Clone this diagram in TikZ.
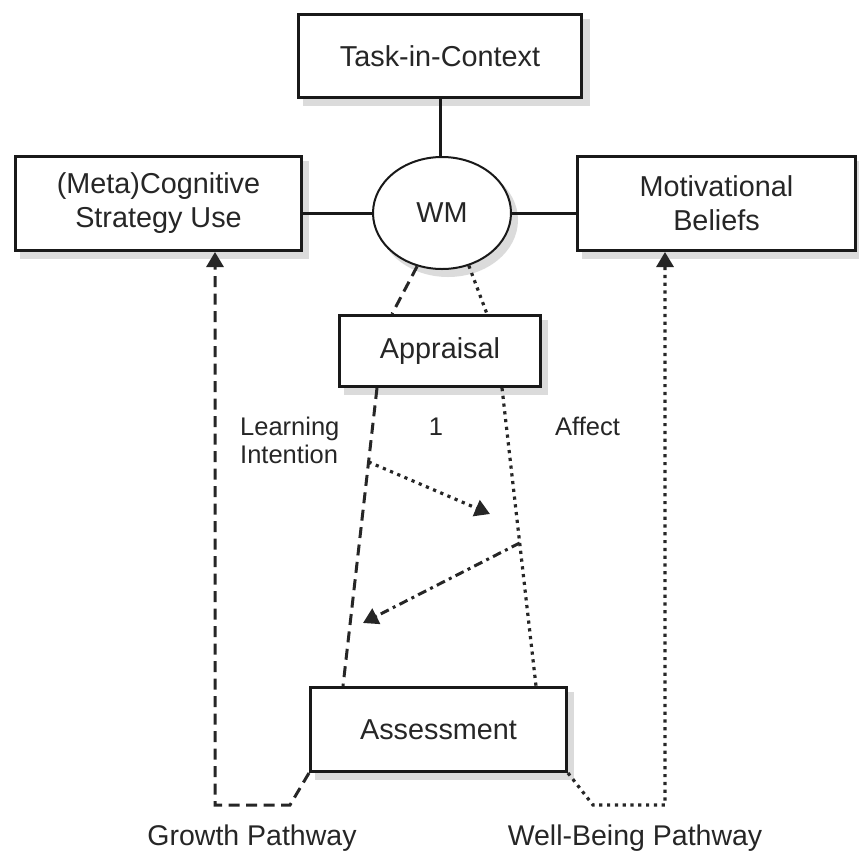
\documentclass[tikz,border=0pt]{standalone}
\usepackage{fontspec}
\setmainfont{Liberation Sans}
\usetikzlibrary{shapes.geometric,arrows.meta,calc}

\begin{document}
\begin{tikzpicture}[
  x=1pt, y=-1pt,
  every node/.style={text=black!85},
  boxtext/.style={font=\fontsize{28.8}{34}\selectfont, align=center},
  labeltext/.style={font=\fontsize{25.5}{28}\selectfont, inner sep=0pt},
  pathtext/.style={font=\fontsize{28.5}{32}\selectfont, inner sep=0pt},
  box/.style={boxtext, draw=black!90, line width=3pt, fill=white,
    rectangle, inner sep=0pt},
  shade/.style={fill=black!14, draw=none},
  link/.style={line width=3pt, draw=black!90},
  growth/.style={line width=3pt, draw=black!85, dash pattern=on 11pt off 6.5pt},
  wellbeing/.style={line width=3.2pt, draw=black!85,
    dash pattern=on 3.2pt off 4.6pt},
  dashdot/.style={line width=3pt, draw=black!85, dash pattern=on 9pt off 4.5pt on 3pt off 4.5pt},
  tip/.style={-{Triangle[length=15pt,width=17pt]}},
]
\useasboundingbox (0,0) rectangle (859,852);

% soft drop shadows behind the boxes and the ellipse
\fill[shade] (303,19) rectangle (590,106);
\fill[shade] (20,161) rectangle (309,259);
\fill[shade] (582,161) rectangle (863,259);
\fill[shade] (448,220) ellipse [x radius=70, y radius=57];
\fill[shade] (344,320) rectangle (548,395);
\fill[shade] (315,692) rectangle (574,780);

% main boxes
\node[box, minimum width=283, minimum height=83] (task) at (440,56) {Task-in-Context};
\node[box, minimum width=286, minimum height=94] (cog) at (158.5,203.5) {(Meta)Cognitive\\Strategy Use};
\node[box, minimum width=278, minimum height=94] (mot) at (716.5,203.5) {Motivational\\Beliefs};
\node[boxtext, draw=black!90, line width=2pt, fill=white, ellipse,
      inner sep=0pt, minimum width=138, minimum height=112] (wm) at (442,213) {WM};
\node[box, minimum width=201, minimum height=71] (app) at (440,351) {Appraisal};
\node[box, minimum width=256, minimum height=84] (ass) at (438.5,729.5) {Assessment};

% solid links around working memory
\draw[link] (task.south) -- (task.south |- wm.north);
\draw[link] (cog.east |- wm.west) -- (wm.west);
\draw[link] (wm.east) -- (mot.west |- wm.east);

% working memory to appraisal
\draw[growth] (wm.245) -- ([xshift=-48]app.north);
\draw[wellbeing] (wm.297) -- ([xshift=47]app.north);

% appraisal to assessment
\coordinate (la) at ([xshift=-63]app.south);
\coordinate (lb) at ([xshift=-95.5]ass.north);
\coordinate (ra) at ([xshift=62]app.south);
\coordinate (rb) at ([xshift=97.5]ass.north);
\draw[growth] (la) -- (lb);
\draw[wellbeing] (ra) -- (rb);

% cross arrows between the two strands
\coordinate (c1) at ($(la)!0.248!(lb)$);
\coordinate (c1end) at (490,514);
\coordinate (c2) at ($(ra)!0.52!(rb)$);
\coordinate (c2end) at (363,623);
\draw[wellbeing, tip] (c1) -- (c1end);
\draw[dashdot, tip] (c2) -- (c2end);

% the two pathways back to the top boxes
\coordinate (g1) at (290,805);
\coordinate (g2) at (215,805);
\draw[growth, tip] (ass.south west) -- (g1) -- (g2) -- (g2 |- cog.south);
\coordinate (w1) at (593,805);
\coordinate (w2) at (665,805);
\draw[wellbeing, tip] (ass.south east) -- (w1) -- (w2) -- (w2 |- mot.south);

% labels
\node[labeltext, align=left, anchor=north west] (learn) at (240,416.5) {Learning\\Intention};
\node[labeltext, anchor=base] (one) at (436,435) {1};
\node[labeltext, anchor=base west] (affect) at (555,435) {Affect};
\node[pathtext, anchor=base] (gp) at (252,845) {Growth Pathway};
\node[pathtext, anchor=base] (wp) at (635,845) {Well-Being Pathway};
\end{tikzpicture}
\end{document}
